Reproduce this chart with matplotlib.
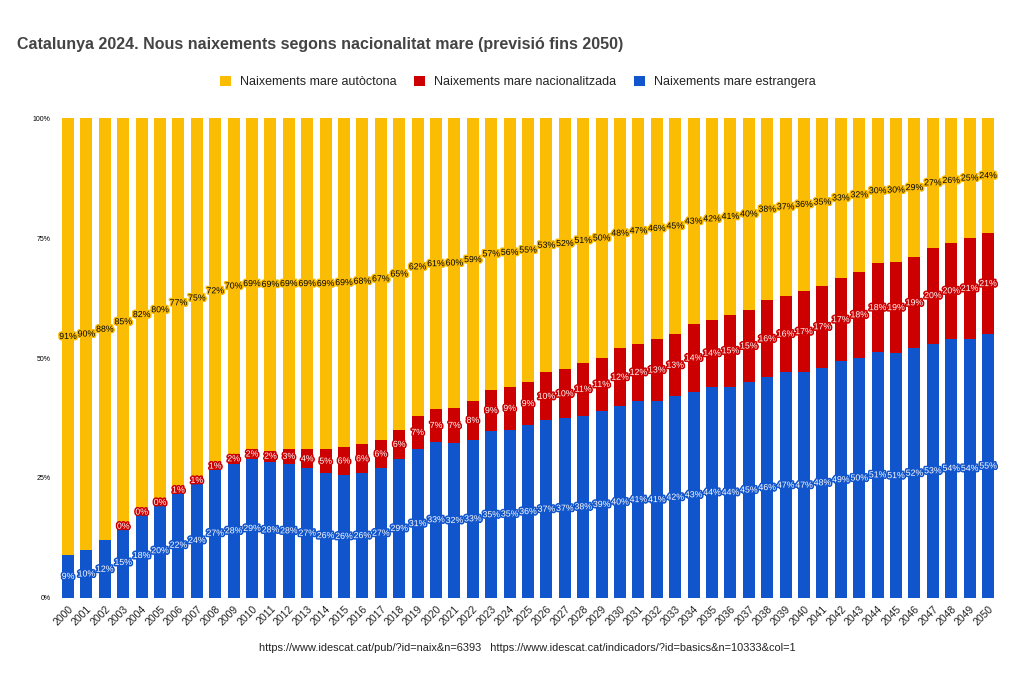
import matplotlib
matplotlib.use("Agg")
import matplotlib.pyplot as plt
import matplotlib.patheffects as pe
import numpy as np

years = list(range(2000, 2051))

estrangera = [9.0, 10.0, 12.0, 14.8, 17.7, 19.7, 22.0, 24.0, 27.0, 28.0,
              29.0, 28.4, 28.0, 27.0, 26.0, 25.7, 26.0, 27.0, 29.0, 31.0,
              32.6, 32.3, 33.0, 34.7, 35.0, 36.0, 37.0, 37.4, 38.0, 39.0,
              40.0, 41.0, 41.0, 42.0, 43.0, 44.0, 44.0, 45.0, 46.0, 47.0,
              47.0, 48.0, 49.3, 50.0, 51.3, 51.0, 52.0, 53.0, 54.0, 54.0, 55.0]

nacionalitzada = [0.0, 0.0, 0.0, 0.3, 0.4, 0.4, 1.0, 1.0, 1.0, 2.0,
                  2.0, 2.3, 3.0, 4.0, 5.0, 5.7, 6.0, 6.0, 6.0, 7.0,
                  6.7, 7.3, 8.0, 8.7, 9.0, 9.0, 10.0, 10.3, 11.0, 11.0,
                  12.0, 12.0, 13.0, 13.0, 14.0, 14.0, 15.0, 15.0, 16.0, 16.0,
                  17.0, 17.0, 17.4, 18.0, 18.4, 19.0, 19.0, 20.0, 20.0, 21.0, 21.0]

autoctona = [91.0, 90.0, 88.0, 84.9, 81.9, 79.9, 77.0, 75.0, 72.0, 70.0,
             69.0, 69.3, 69.0, 69.0, 69.0, 68.6, 68.0, 67.0, 65.0, 62.0,
             60.7, 60.4, 59.0, 56.6, 56.0, 55.0, 53.0, 52.3, 51.0, 50.0,
             48.0, 47.0, 46.0, 45.0, 43.0, 42.0, 41.0, 40.0, 38.0, 37.0,
             36.0, 35.0, 33.3, 32.0, 30.3, 30.0, 29.0, 27.0, 26.0, 25.0, 24.0]

series_names = ["Naixements mare autòctona", "Naixements mare nacionalitzada",
                "Naixements mare estrangera"]
title = "Catalunya 2024. Nous naixements segons nacionalitat mare (previsió fins 2050)"
footer = ("https://www.idescat.cat/pub/?id=naix&n=6393   "
          "https://www.idescat.cat/indicadors/?id=basics&n=10333&col=1")

C_YEL = "#FBBC04"
C_RED = "#CC0000"
C_BLU = "#1155CC"

plt.rcParams['font.family'] = ['Liberation Sans', 'DejaVu Sans']

fig = plt.figure(figsize=(10.35, 6.89), dpi=100)
ax = fig.add_axes([0.0568, 0.1321, 0.9067, 0.6966])

e = np.array(estrangera)
n = np.array(nacionalitzada)
a = np.array(autoctona)
tot = e + n + a
e_p = e / tot
n_p = n / tot
a_p = a / tot

x = np.arange(len(years))
w = 0.65
b1 = ax.bar(x, e_p, w, color=C_BLU, label=series_names[2])
b2 = ax.bar(x, n_p, w, bottom=e_p, color=C_RED, label=series_names[1])
b3 = ax.bar(x, a_p, w, bottom=e_p + n_p, color=C_YEL, label=series_names[0])

def lab(vals, fracs, bottoms, tcolor, scolor):
    for i, (v, f, b) in enumerate(zip(vals, fracs, bottoms)):
        if v == 0:
            continue
        ax.text(x[i], b + f / 2, f"{round(v):.0f}%", ha='center', va='center',
                fontsize=6.3, color=tcolor, zorder=5,
                path_effects=[pe.withStroke(linewidth=2.2, foreground=scolor)])

lab(e, e_p, np.zeros_like(e_p), 'white', C_BLU)
lab(n, n_p, e_p, 'white', C_RED)
lab(a, a_p, e_p + n_p, 'black', C_YEL)

ax.set_xlim(-0.5, len(years) - 0.5)
ax.set_ylim(0, 1)
ax.set_yticks([0, 0.25, 0.5, 0.75, 1.0])
ax.set_yticklabels(["0%", "25%", "50%", "75%", "100%"], fontsize=5)
ax.set_xticks(x)
ax.set_xticklabels([str(y) for y in years], rotation=45, ha='right',
                   rotation_mode='anchor', fontsize=7.5, color='#222222')
ax.tick_params(axis='both', length=0)
ax.tick_params(axis='y', pad=6)
ax.tick_params(axis='x', pad=4)
for s in ax.spines.values():
    s.set_visible(False)

fig.text(17 / 1035, 1 - 44 / 689, title, fontsize=11.5, fontweight='bold',
         color='#444444', ha='left', va='center')

handles = [b3, b2, b1]
leg = fig.legend(handles, series_names, loc='center', bbox_to_anchor=(0.5, 1 - 82 / 689),
                 ncol=3, frameon=False, fontsize=9, handlelength=0.9, handleheight=0.9,
                 handletextpad=0.7, columnspacing=1.4, labelcolor='#222222')

fig.text(0.509, 1 - 648 / 689, footer, fontsize=7.9, color='#222222',
         ha='center', va='center')

fig.savefig("out.png", dpi=100)
